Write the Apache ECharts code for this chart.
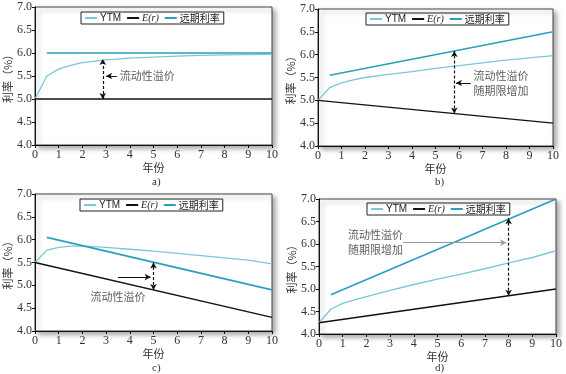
<!DOCTYPE html>
<html><head><meta charset="utf-8">
<script src="https://cdn.jsdelivr.net/npm/echarts@6/dist/echarts.min.js"></script>
<style>html,body{margin:0;padding:0;background:#fff}#c{width:566px;height:374px}</style>
</head><body><div id="c"></div>
<script>
// ---- data ----
const years = [0, 0.5, 1, 1.5, 2, 3, 4, 5, 6, 7, 8, 9, 10];
const ytmA = [5.0, 5.5, 5.65, 5.73, 5.79, 5.85, 5.89, 5.91, 5.93, 5.95, 5.96, 5.965, 5.97];
const ytmB = [5.0, 5.28, 5.38, 5.45, 5.5, 5.57, 5.63, 5.7, 5.76, 5.82, 5.88, 5.93, 5.98];
const ytmC = [5.5, 5.77, 5.83, 5.86, 5.86, 5.83, 5.79, 5.75, 5.7, 5.65, 5.6, 5.55, 5.47];
const ytmD = [4.25, 4.55, 4.68, 4.76, 4.83, 4.97, 5.1, 5.22, 5.33, 5.45, 5.58, 5.7, 5.85];
const erYears = [0, 10];
const erA = [5.0, 5.0];
const erB = [5.0, 4.5];
const erC = [5.5, 4.3];
const erD = [4.25, 5.0];
const fwdYears = [0.5, 10];
const fwdA = [6.0, 6.0];
const fwdB = [5.55, 6.5];
const fwdC = [6.05, 4.9];
const fwdD = [4.87, 7.0];
const xTicks = [0, 1, 2, 3, 4, 5, 6, 7, 8, 9, 10];
const yTicks = [4.0, 4.5, 5.0, 5.5, 6.0, 6.5, 7.0];
const panelLabels = ['a)', 'b)', 'c)', 'd)'];
const legendNames = ['YTM', 'E(r)', '远期利率'];
// annotations: premium arrow [x, yLow, yHigh]; pointer [x1, y1, x2, y2]; text [x, y, text]
const premA = [2.86, 5.0, 5.87], ptrA = [3.45, 5.5, 3.0, 5.5], txtA = [3.55, 5.5, '流动性溢价'];
const premB = [5.8, 4.71, 6.08], ptrB = [6.5, 5.38, 5.87, 5.38], txtB = [6.6, 5.38, '流动性溢价\n随期限增加'];
const premC = [5.0, 4.9, 5.5], ptrC = [3.5, 5.18, 4.88, 5.18], txtC = [3.5, 4.74, '流动性溢价'];
const premD = [8.0, 4.85, 6.57], ptrD = [3.55, 6.03, 7.9, 6.03], txtD = [1.2, 6.03, '流动性溢价\n随期限增加'];

// ---- layout ----
const grids = [
  {left: 35, top: 7, width: 237, height: 138},
  {left: 318, top: 9, width: 235, height: 137},
  {left: 35, top: 194, width: 237, height: 137},
  {left: 319, top: 199, width: 237, height: 135}
];
const legendPos = [{left: 81, top: 12}, {left: 366, top: 13}, {left: 80, top: 199}, {left: 367, top: 203}];
const titlePos = [{left: 147, top: 172}, {left: 430, top: 172}, {left: 147, top: 358}, {left: 430, top: 358}];

const C_YTM = '#7cc6d8', C_FWD = '#2a9fbf', C_ER = '#111';
const serif = 'Liberation Serif';
const ytms = [ytmA, ytmB, ytmC, ytmD], ers = [erA, erB, erC, erD], fwds = [fwdA, fwdB, fwdC, fwdD];
const prems = [premA, premB, premC, premD], ptrs = [ptrA, ptrB, ptrC, ptrD], txts = [txtA, txtB, txtC, txtD];

const option = {
  animation: false,
  backgroundColor: '#fff',
  grid: grids.map(g => Object.assign({show: true, backgroundColor: '#fff', borderColor: '#444', borderWidth: 1,
    shadowColor: 'rgba(0,0,0,0.35)', shadowBlur: 5, shadowOffsetX: 3, shadowOffsetY: 3}, g)),
  title: titlePos.map((p, i) => ({text: panelLabels[i], left: p.left, top: p.top,
    textStyle: {fontFamily: serif, fontSize: 11, fontWeight: 'normal', color: '#333'}})),
  legend: legendPos.map(p => ({
    data: legendNames, left: p.left, top: p.top, orient: 'horizontal',
    borderColor: '#222', borderWidth: 1, padding: [1, 4], itemGap: 6,
    itemWidth: 12, itemHeight: 2, icon: 'rect',
    textStyle: {fontFamily: 'Liberation Sans', fontSize: 10, color: '#222', padding: [0, 0, 0, -2],
      rich: {i: {fontFamily: serif, fontStyle: 'italic', fontSize: 10, color: '#222'},
             c: {fontFamily: 'Noto Sans CJK SC', fontSize: 10, color: '#222'}}},
    formatter: n => n === 'E(r)' ? '{i|E(r)}' : (n === '远期利率' ? '{c|' + n + '}' : n)
  })),
  xAxis: grids.map((g, i) => ({
    gridIndex: i, type: 'value', min: xTicks[0], max: xTicks[xTicks.length - 1], interval: 1,
    name: '年份', nameLocation: 'middle', nameGap: 16,
    nameTextStyle: {fontFamily: 'Noto Sans CJK SC', fontSize: 11, color: '#333'},
    axisLine: {lineStyle: {color: '#111', width: 1}},
    axisTick: {show: true, length: 3, lineStyle: {color: '#111'}},
    axisLabel: {fontFamily: serif, fontSize: 12, color: '#333', margin: 4},
    splitLine: {show: false}
  })),
  yAxis: grids.map((g, i) => ({
    gridIndex: i, type: 'value', min: yTicks[0], max: yTicks[yTicks.length - 1], interval: 0.5,
    name: '利率（%）', nameLocation: 'middle', nameGap: 21,
    nameTextStyle: {fontFamily: 'Noto Sans CJK SC', fontSize: 11, color: '#333'},
    axisLine: {show: true, lineStyle: {color: '#111', width: 1}},
    axisTick: {show: true, length: 3, lineStyle: {color: '#111'}},
    axisLabel: {fontFamily: serif, fontSize: 12, color: '#333', margin: 3, formatter: v => v.toFixed(1)},
    splitLine: {show: false}
  })),
  series: []
};

for (let i = 0; i < 4; i++) {
  const prem = prems[i], ptr = ptrs[i];
  const ptrColor = i === 3 ? '#999' : '#111';
  option.series.push({
    name: 'YTM', type: 'line', xAxisIndex: i, yAxisIndex: i, symbol: 'none', smooth: false,
    lineStyle: {color: C_YTM, width: 1.3}, itemStyle: {color: C_YTM},
    data: years.map((x, k) => [x, ytms[i][k]]), z: 3
  });
  option.series.push({
    name: 'E(r)', type: 'line', xAxisIndex: i, yAxisIndex: i, symbol: 'none',
    lineStyle: {color: C_ER, width: 1.3}, itemStyle: {color: C_ER},
    data: erYears.map((x, k) => [x, ers[i][k]]), z: 3,
    markLine: {
      silent: true, animation: false, symbolSize: [5, 6],
      label: {show: false},
      data: [
        [{coord: [prem[0], prem[1]], symbol: 'arrow', lineStyle: {type: [3, 2], color: '#111', width: 1.2}},
         {coord: [prem[0], prem[2]], symbol: 'arrow'}],
        [{coord: [ptr[0], ptr[1]], symbol: 'none', lineStyle: {type: 'solid', color: ptrColor, width: 1}},
         {coord: [ptr[2], ptr[3]], symbol: 'arrow'}]
      ]
    }
  });
  option.series.push({
    name: '远期利率', type: 'line', xAxisIndex: i, yAxisIndex: i, symbol: 'none',
    lineStyle: {color: C_FWD, width: 1.6}, itemStyle: {color: C_FWD},
    data: fwdYears.map((x, k) => [x, fwds[i][k]]), z: 3
  });
  const t = txts[i];
  option.series.push({
    name: 'note' + i, type: 'scatter', xAxisIndex: i, yAxisIndex: i, symbolSize: 1,
    itemStyle: {color: 'rgba(0,0,0,0)'}, silent: true,
    label: {show: true, position: i === 2 ? 'inside' : 'right', distance: 0, formatter: () => t[2],
      fontFamily: 'Noto Sans CJK SC', fontSize: 11, lineHeight: 15, color: '#333'},
    data: [[t[0], t[1]]], z: 5
  });
}

const chart = echarts.init(document.getElementById('c'), null, {renderer: 'canvas'});
chart.setOption(option);
</script></body></html>
